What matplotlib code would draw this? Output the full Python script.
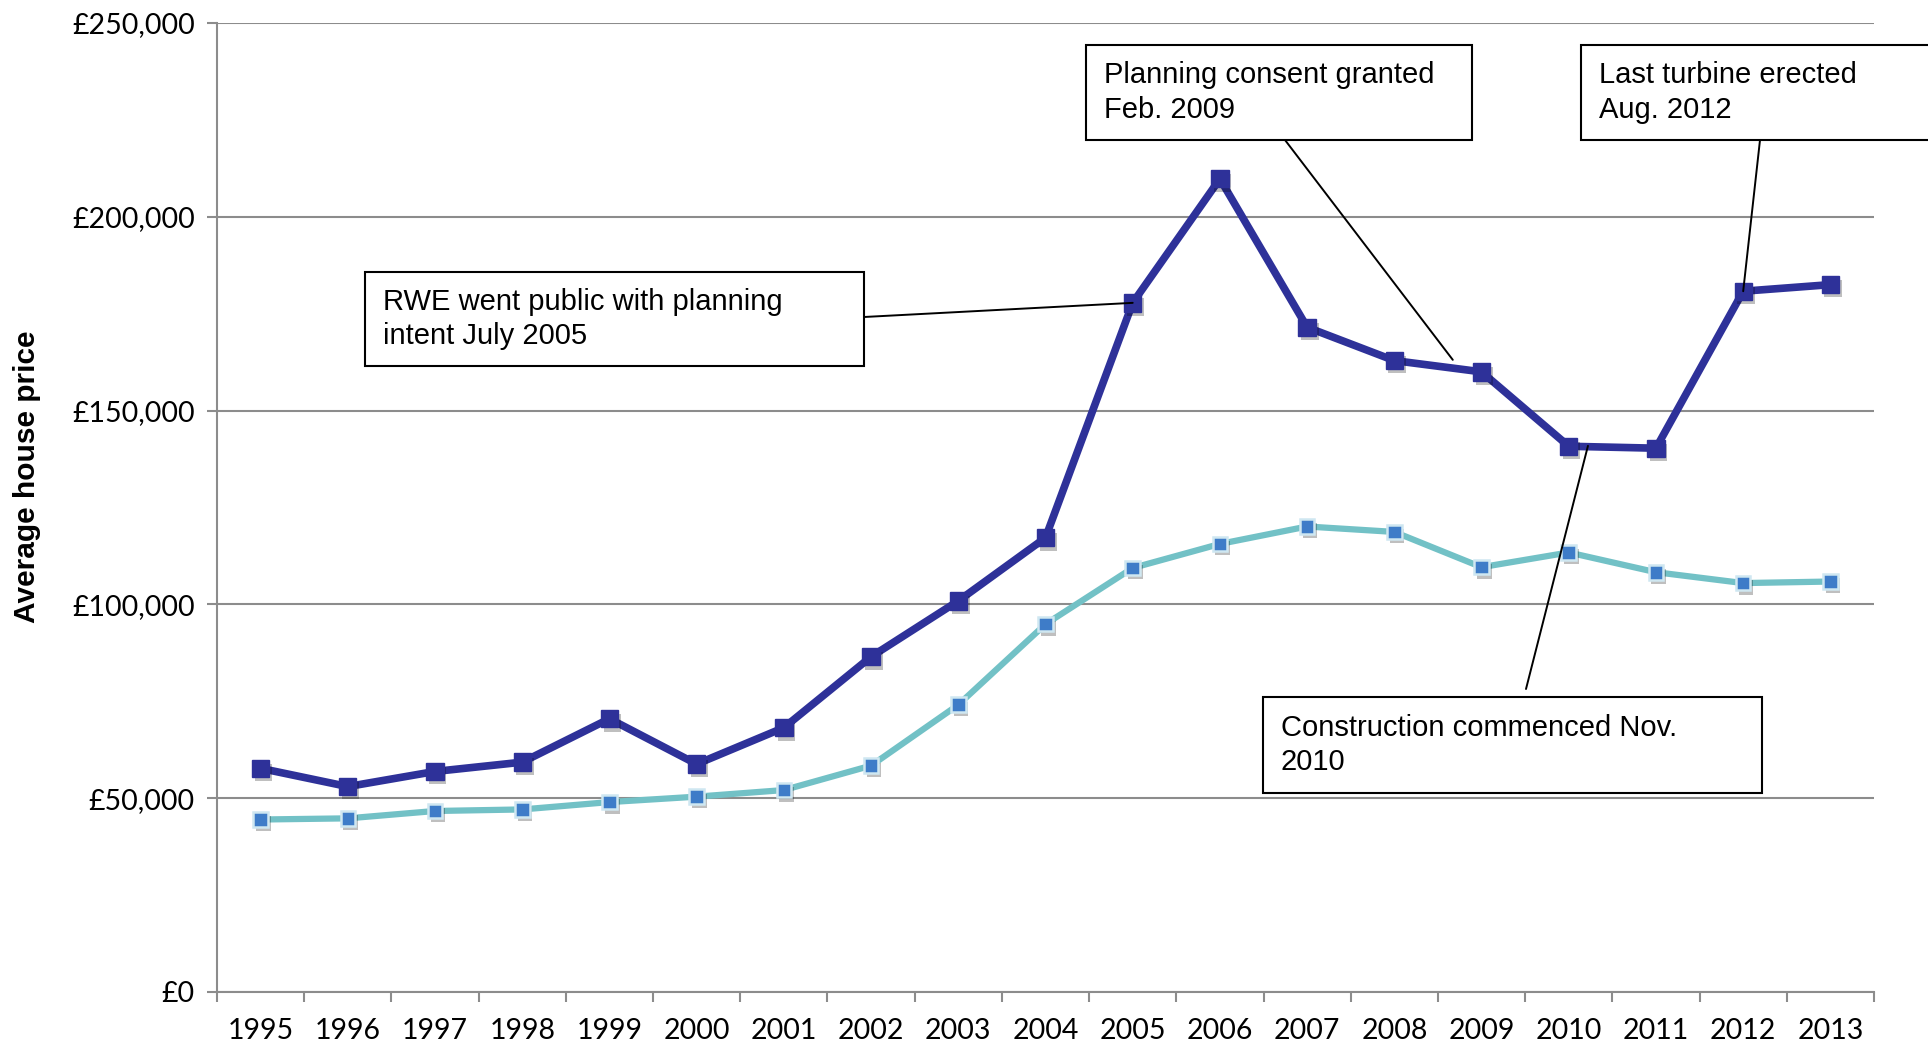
import numpy as np
import matplotlib
matplotlib.use("Agg")
import matplotlib.pyplot as plt
import matplotlib.patheffects as pe
from matplotlib.patches import Rectangle
from matplotlib.ticker import FuncFormatter, FixedLocator

# --- data ---
years = [str(y) for y in range(1995, 2014)]
local_price = [57700, 53000, 56900, 59300, 70500, 58800, 68200, 86500, 100900, 117200,
               177800, 209800, 171500, 162900, 160000, 140800, 140300, 180800, 182500]
region_price = [44500, 44800, 46700, 47100, 49000, 50400, 52100, 58400, 74100, 94900,
                109400, 115600, 120100, 118700, 109600, 113400, 108300, 105500, 105900]

# annotation: text, box (left, top, right, bottom in px), anchor on box (px), point (year index, value)
notes = [
    ("RWE went public with planning\nintent July 2005", (365, 272, 864, 366), (864, 317), (10, 177800)),
    ("Planning consent granted\nFeb. 2009", (1086, 45, 1472, 140), (1285, 140), (13.67, 163100)),
    ("Last turbine erected\nAug. 2012", (1581, 45, 1960, 140), (1760, 140), (17, 180800)),
    ("Construction commenced Nov.\n2010", (1263, 697, 1762, 793), (1526, 689), (15.22, 140900)),
]

W, H = 1928, 1046
fig = plt.figure(figsize=(W / 100, H / 100), dpi=100)
ax = fig.add_axes([217 / W, 1 - 992 / H, (1874 - 217) / W, (992 - 23) / H])


def fx(x):
    return x / W


def fy(y):
    return 1 - y / H


x = np.arange(len(years))
dark = "#2E3199"
teal = "#72C1C6"
grey = "#8C8C8C"

shadow = [pe.SimplePatchShadow(offset=(2, -3), alpha=0.25, shadow_rgbFace="k"), pe.Normal()]

ax.plot(x, local_price, color=dark, lw=5.5, solid_joinstyle="miter", zorder=4)
ax.plot(x, local_price, ls="none", marker="s", ms=12.5, color=dark, zorder=5, path_effects=shadow)
ax.plot(x, region_price, color=teal, lw=4.5, zorder=2)
ax.plot(x, region_price, ls="none", marker="s", ms=10.5, mfc="#3E7CC8", mec="#CFE7F1", mew=1.8,
        zorder=3, path_effects=shadow)

ax.set_xlim(-0.5, len(years) - 0.5)
ax.set_ylim(0, 250000)
ax.set_yticks(np.arange(0, 250001, 50000))
ax.yaxis.set_major_formatter(FuncFormatter(lambda v, p: "£{:,.0f}".format(v)))
ax.grid(axis="y", color=grey, lw=1.5, zorder=0)
ax.set_axisbelow(True)

ax.xaxis.set_major_locator(FixedLocator(np.arange(-0.5, len(years), 1.0)))
ax.xaxis.set_major_formatter(FuncFormatter(lambda v, p: ""))
ax.set_xticks(x, minor=True)
ax.set_xticklabels(years, minor=True)
ax.tick_params(axis="x", which="major", length=7, width=1.5, color=grey, direction="out")
ax.tick_params(axis="x", which="minor", length=0, pad=19, labelsize=20.5)
ax.tick_params(axis="y", length=7, width=1.5, color=grey, labelsize=20.5, pad=9)
for lab in ax.get_xticklabels(minor=True) + ax.get_yticklabels():
    lab.set_family(["Lato", "DejaVu Sans"])

for s in ["top", "right"]:
    ax.spines[s].set_visible(False)
for s in ["left", "bottom"]:
    ax.spines[s].set_color(grey)
    ax.spines[s].set_linewidth(1.5)

fig.text(fx(27), fy(477), "Average house price", rotation=90, ha="center", va="center",
         fontsize=21.5, fontweight="bold", family="Liberation Sans")

for text, (l, t, r, b), (ax0, ay0), pt in notes:
    box = Rectangle((fx(l), fy(b)), fx(r) - fx(l), fy(t) - fy(b), transform=fig.transFigure,
                    fill=True, facecolor="white", edgecolor="black", lw=1.5, zorder=10)
    fig.add_artist(box)
    fig.text(fx(l + 18), fy((t + b) / 2), text, ha="left", va="center", fontsize=21,
             family="Liberation Sans", linespacing=1.3, zorder=11)
    ax.annotate("", xy=pt, xycoords="data", xytext=(fx(ax0), fy(ay0)), textcoords="figure fraction",
                arrowprops=dict(arrowstyle="-", color="black", lw=1.4, shrinkA=0, shrinkB=0),
                zorder=9)

fig.savefig("out.png", dpi=100)
